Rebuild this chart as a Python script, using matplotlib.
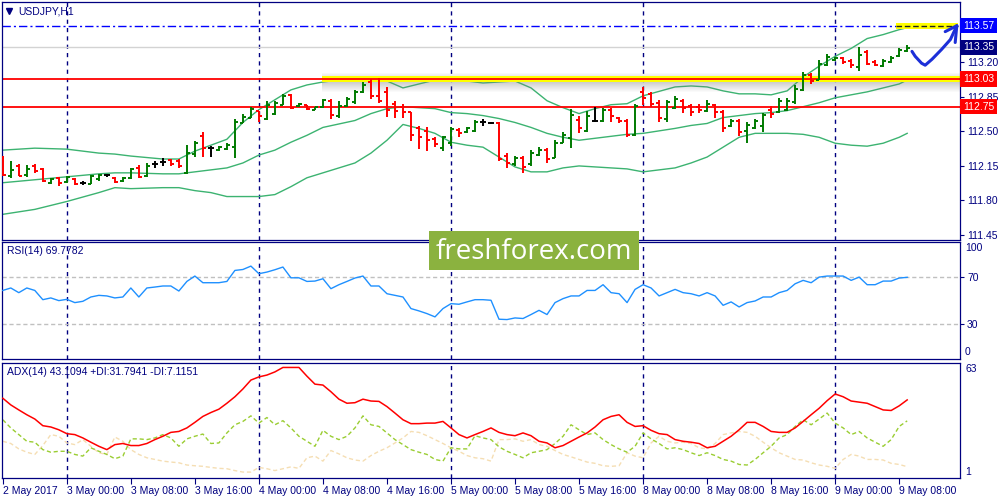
import numpy as np
import matplotlib.pyplot as plt
import matplotlib.transforms as mtransforms
from matplotlib.collections import LineCollection

plt.rcParams['font.family'] = ['Liberation Sans', 'DejaVu Sans']

# USDJPY H1 bars, 2 May 16:00 .. 9 May 09:00
opens = [112.22, 112.05, 112.15, 112.06, 112.15, 112.12, 111.98, 112.03, 111.99, 112.02,
         111.98, 111.97, 112.02, 112.06, 112.03, 112.00, 112.03, 112.13, 112.05, 112.17,
         112.19, 112.21, 112.20, 112.08, 112.27, 112.45, 112.33, 112.31, 112.32, 112.34,
         112.58, 112.64, 112.71, 112.63, 112.68, 112.77, 112.87, 112.76, 112.77, 112.72,
         112.75, 112.81, 112.66, 112.76, 112.80, 112.90, 113.00, 112.86, 112.90, 112.78,
         112.75, 112.70, 112.53, 112.50, 112.42, 112.33, 112.38, 112.51, 112.49, 112.50,
         112.59, 112.58, 112.58, 112.25, 112.17, 112.23, 112.17, 112.26, 112.31, 112.23,
         112.38, 112.43, 112.62, 112.50, 112.61, 112.61, 112.72, 112.64, 112.61, 112.46,
         112.90, 112.88, 112.79, 112.63, 112.74, 112.81, 112.76, 112.75, 112.71, 112.77,
         112.70, 112.55, 112.61, 112.50, 112.53, 112.55, 112.72, 112.70, 112.72, 112.80,
         112.92, 113.07, 113.02, 113.17, 113.22, 113.24, 113.21, 113.15, 113.30, 113.20,
         113.16, 113.20, 113.26, 113.31]
highs = [112.25, 112.20, 112.17, 112.16, 112.17, 112.13, 112.03, 112.04, 112.05, 112.03,
         112.00, 112.06, 112.07, 112.07, 112.04, 112.04, 112.13, 112.16, 112.18, 112.20,
         112.23, 112.22, 112.22, 112.36, 112.40, 112.49, 112.35, 112.35, 112.38, 112.63,
         112.68, 112.75, 112.71, 112.81, 112.81, 112.88, 112.88, 112.79, 112.77, 112.75,
         112.83, 112.83, 112.81, 112.85, 112.92, 113.00, 113.03, 113.04, 112.95, 112.81,
         112.78, 112.70, 112.55, 112.54, 112.44, 112.45, 112.54, 112.53, 112.54, 112.62,
         112.63, 112.59, 112.59, 112.28, 112.25, 112.25, 112.31, 112.34, 112.33, 112.41,
         112.49, 112.73, 112.66, 112.71, 112.75, 112.74, 112.74, 112.65, 112.63, 112.78,
         112.95, 112.90, 112.82, 112.82, 112.86, 112.83, 112.78, 112.78, 112.82, 112.78,
         112.72, 112.63, 112.63, 112.59, 112.63, 112.69, 112.76, 112.84, 112.84, 112.97,
         113.10, 113.09, 113.22, 113.28, 113.25, 113.25, 113.23, 113.35, 113.32, 113.22,
         113.23, 113.26, 113.34, 113.37]
lows = [112.05, 112.03, 112.05, 112.04, 112.08, 111.99, 111.97, 111.95, 111.98, 111.96,
        111.96, 111.97, 112.00, 112.04, 111.98, 111.99, 112.02, 112.03, 112.04, 112.13,
        112.15, 112.15, 112.13, 112.07, 112.24, 112.24, 112.24, 112.30, 112.31, 112.23,
        112.58, 112.64, 112.59, 112.62, 112.67, 112.77, 112.73, 112.75, 112.72, 112.72,
        112.74, 112.63, 112.64, 112.75, 112.78, 112.89, 112.83, 112.79, 112.65, 112.64,
        112.64, 112.40, 112.32, 112.30, 112.34, 112.30, 112.35, 112.44, 112.48, 112.49,
        112.55, 112.57, 112.20, 112.13, 112.15, 112.08, 112.15, 112.25, 112.18, 112.23,
        112.38, 112.33, 112.48, 112.49, 112.59, 112.59, 112.59, 112.58, 112.44, 112.45,
        112.77, 112.75, 112.59, 112.59, 112.73, 112.69, 112.66, 112.69, 112.70, 112.64,
        112.49, 112.54, 112.45, 112.38, 112.52, 112.49, 112.64, 112.69, 112.71, 112.78,
        112.91, 112.98, 113.02, 113.16, 113.21, 113.18, 113.14, 113.11, 113.17, 113.16,
        113.15, 113.19, 113.25, 113.30]
closes = [112.06, 112.11, 112.05, 112.12, 112.10, 112.00, 112.02, 111.98, 112.04, 111.97,
          111.98, 112.05, 112.06, 112.06, 111.99, 112.03, 112.12, 112.04, 112.15, 112.17,
          112.19, 112.17, 112.15, 112.28, 112.38, 112.33, 112.33, 112.34, 112.36, 112.59,
          112.65, 112.73, 112.66, 112.77, 112.79, 112.86, 112.74, 112.78, 112.73, 112.75,
          112.82, 112.67, 112.76, 112.83, 112.90, 112.97, 112.86, 112.81, 112.72, 112.71,
          112.70, 112.46, 112.44, 112.41, 112.37, 112.44, 112.52, 112.48, 112.53, 112.59,
          112.59, 112.58, 112.22, 112.18, 112.23, 112.14, 112.28, 112.31, 112.22, 112.38,
          112.46, 112.67, 112.53, 112.66, 112.61, 112.72, 112.66, 112.60, 112.46, 112.76,
          112.84, 112.78, 112.64, 112.80, 112.83, 112.74, 112.70, 112.72, 112.78, 112.70,
          112.53, 112.61, 112.49, 112.56, 112.60, 112.67, 112.68, 112.81, 112.81, 112.93,
          113.07, 113.01, 113.18, 113.25, 113.24, 113.20, 113.17, 113.27, 113.18, 113.17,
          113.21, 113.24, 113.32, 113.34]

# Bollinger bands read at sample bars
bb_idx = [0, 4, 8, 12, 14, 16, 20, 22, 24, 26, 28, 30, 32, 34, 36, 38, 40, 44, 46, 48,
          50, 52, 54, 56, 58, 60, 62, 64, 66, 68, 70, 72, 74, 76, 78, 80, 84, 86, 88, 90,
          92, 94, 96, 98, 100, 102, 104, 106, 108, 110, 112, 113]
bb_upper = [112.31, 112.33, 112.32, 112.28, 112.27, 112.25, 112.22, 112.22, 112.30, 112.36,
            112.42, 112.59, 112.72, 112.82, 112.92, 112.97, 113.00, 113.04, 113.05, 113.01,
            112.94, 112.98, 113.02, 113.03, 113.01, 112.99, 113.00, 113.01, 112.94, 112.81,
            112.74, 112.68, 112.73, 112.77, 112.78, 112.86, 112.95, 112.96, 112.95, 112.91,
            112.88, 112.88, 112.87, 112.91, 113.05, 113.16, 113.26, 113.34, 113.44, 113.48,
            113.53, 113.55]
bb_middle = [111.98, 112.01, 112.04, 112.07, 112.08, 112.08, 112.07, 112.07, 112.09, 112.11,
             112.13, 112.18, 112.26, 112.31, 112.39, 112.46, 112.54, 112.61, 112.68, 112.73,
             112.75, 112.74, 112.73, 112.69, 112.68, 112.66, 112.63, 112.59, 112.54, 112.48,
             112.44, 112.41, 112.43, 112.45, 112.47, 112.48, 112.53, 112.56, 112.58, 112.64,
             112.66, 112.68, 112.69, 112.71, 112.75, 112.79, 112.84, 112.87, 112.90, 112.94,
             112.98, 113.02]
bb_lower = [111.66, 111.71, 111.79, 111.88, 111.93, 111.92, 111.93, 111.93, 111.90, 111.88,
            111.84, 111.84, 111.84, 111.86, 111.94, 112.03, 112.08, 112.18, 112.28, 112.41,
            112.57, 112.53, 112.48, 112.39, 112.36, 112.34, 112.24, 112.14, 112.09, 112.09,
            112.13, 112.15, 112.14, 112.13, 112.12, 112.09, 112.13, 112.18, 112.24, 112.34,
            112.44, 112.48, 112.48, 112.48, 112.47, 112.44, 112.38, 112.36, 112.35, 112.38,
            112.44, 112.48]

rsi = [58.6, 60.7, 56.7, 60.7, 58.6, 50.7, 52.2, 49.9, 51.0, 48.2,
       49.3, 53.0, 54.4, 53.9, 52.2, 53.0, 60.7, 53.0, 60.7, 61.5,
       62.4, 62.4, 58.1, 66.3, 70.9, 65.2, 65.2, 65.2, 66.3, 75.7,
       76.5, 79.4, 72.9, 74.3, 76.3, 78.6, 69.4, 69.4, 66.3, 66.6,
       68.6, 60.1, 63.5, 66.3, 69.2, 70.9, 62.4, 62.4, 55.8, 54.4,
       53.0, 43.1, 41.1, 38.8, 36.0, 43.1, 47.3, 46.8, 48.8, 50.7,
       50.7, 50.2, 34.0, 33.7, 35.1, 34.6, 38.0, 41.6, 38.0, 48.2,
       51.6, 53.9, 53.9, 58.6, 58.6, 63.5, 56.7, 55.8, 48.2, 59.5,
       63.5, 60.7, 53.9, 56.7, 59.5, 56.7, 55.8, 53.9, 56.7, 53.9,
       45.9, 48.8, 44.5, 48.2, 49.6, 53.0, 53.0, 56.7, 58.6, 64.3,
       67.2, 65.2, 70.0, 70.9, 70.9, 70.9, 67.2, 70.0, 63.5, 63.5,
       66.6, 66.6, 69.2, 69.8]

adx = [44.0, 40.4, 37.7, 35.1, 32.8, 29.2, 28.5, 27.0, 24.9, 24.4,
       22.6, 20.3, 18.1, 16.3, 19.0, 19.6, 18.5, 18.5, 19.6, 21.7,
       23.5, 25.6, 26.1, 28.0, 31.0, 34.2, 36.3, 38.1, 41.3, 44.8,
       49.0, 53.8, 55.5, 56.5, 58.2, 60.6, 60.6, 60.6, 55.9, 51.6,
       51.1, 47.5, 43.5, 41.3, 41.6, 43.5, 42.5, 42.3, 39.5, 36.0,
       32.4, 30.3, 30.3, 30.6, 30.6, 31.5, 28.0, 24.4, 22.6, 24.4,
       26.1, 28.0, 25.6, 24.4, 23.8, 25.3, 23.8, 20.8, 19.9, 17.3,
       18.5, 20.8, 23.1, 25.3, 28.5, 32.4, 34.2, 35.1, 31.0, 28.8,
       29.2, 26.7, 24.9, 24.4, 21.7, 20.8, 20.3, 19.6, 17.3, 18.1,
       20.8, 23.5, 27.0, 31.0, 31.0, 28.8, 26.1, 25.6, 25.6, 28.0,
       31.5, 35.1, 38.6, 42.7, 46.3, 44.8, 42.5, 41.9, 41.3, 39.5,
       37.7, 37.4, 39.9, 43.1]
plus_di = [32.4, 28.0, 24.4, 20.8, 20.3, 16.3, 14.9, 15.4, 15.4, 13.7,
           12.8, 17.3, 15.4, 13.7, 11.4, 12.8, 22.1, 22.1, 21.7, 22.6,
           24.4, 22.6, 18.1, 22.1, 23.5, 24.7, 19.6, 19.9, 25.3, 29.7,
           31.5, 34.5, 30.6, 33.6, 29.7, 31.9, 28.0, 23.5, 20.8, 18.1,
           26.7, 23.5, 21.7, 23.5, 28.0, 34.5, 29.7, 28.8, 25.3, 21.7,
           19.0, 16.3, 14.9, 13.7, 11.0, 10.1, 17.3, 16.7, 16.7, 23.8,
           22.6, 21.7, 17.8, 15.4, 13.7, 11.9, 14.6, 15.4, 16.3, 19.6,
           23.5, 29.7, 27.0, 24.4, 25.3, 21.7, 19.0, 16.7, 14.9, 18.1,
           25.3, 22.1, 19.6, 16.7, 17.3, 16.3, 14.6, 13.1, 14.6, 13.1,
           11.0, 10.1, 8.3, 8.0, 11.0, 14.6, 18.1, 22.6, 24.4, 28.8,
           32.4, 29.7, 32.8, 36.0, 30.6, 28.0, 24.4, 26.1, 22.6, 20.3,
           18.1, 21.7, 28.8, 31.8]
minus_di = [20.8, 19.6, 16.7, 14.9, 13.7, 18.5, 24.4, 23.5, 19.9, 19.0,
            21.7, 18.1, 14.6, 13.7, 23.1, 20.8, 16.3, 13.7, 11.9, 11.0,
            10.1, 9.6, 9.2, 8.0, 7.6, 7.3, 6.7, 6.2, 6.0, 5.0,
            4.2, 4.2, 6.7, 6.0, 5.0, 6.0, 7.0, 6.2, 11.9, 12.8,
            10.1, 15.8, 14.0, 11.9, 10.7, 10.1, 13.1, 15.4, 17.3, 19.9,
            22.6, 26.1, 25.6, 23.8, 21.7, 19.6, 17.3, 15.4, 13.1, 11.9,
            11.4, 10.1, 21.7, 21.7, 22.1, 20.8, 21.7, 19.0, 18.1, 15.8,
            13.7, 12.4, 11.0, 9.6, 8.9, 7.6, 7.3, 7.6, 14.6, 12.8,
            11.9, 19.9, 23.5, 20.8, 19.9, 20.3, 19.6, 17.3, 16.7, 19.6,
            24.4, 25.3, 26.1, 25.6, 23.5, 20.3, 17.3, 14.6, 12.8, 11.0,
            10.7, 9.2, 8.0, 7.3, 6.2, 11.0, 13.7, 12.8, 11.0, 11.0,
            10.7, 8.9, 8.3, 7.1]

date_idx = [0, 8, 16, 24, 32, 40, 48, 56, 64, 72, 80, 88, 96, 104, 112]
date_labels = ['2 May 2017', '3 May 00:00', '3 May 08:00', '3 May 16:00', '4 May 00:00',
               '4 May 08:00', '4 May 16:00', '5 May 00:00', '5 May 08:00', '5 May 16:00',
               '8 May 00:00', '8 May 08:00', '8 May 16:00', '9 May 00:00', '9 May 08:00']
day_idx = [8, 32, 56, 80, 104]

price_ticks = [113.20, 112.85, 112.50, 112.15, 111.80, 111.45]
resistance = 113.03
support = 112.75
target = 113.57
bid = 113.35

# hand drawn arrow (bar index, price)
arrow_x = [113.6, 114.0, 114.8, 115.25, 116.1, 117.3, 118.4, 119.2]
arrow_y = [113.31, 113.26, 113.19, 113.17, 113.23, 113.33, 113.43, 113.57]
head_x = [117.75, 119.2, 119.0]
head_y = [113.51, 113.57, 113.40]

NAVY = '#000080'
GREEN = '#007a00'
BAND = '#3cb371'
FS = 7.5

fig = plt.figure(figsize=(10, 5), dpi=100)
W, H = 1000, 500


def px_axes(x0, y0, x1, y1):
    return fig.add_axes([x0 / W, 1 - y1 / H, (x1 - x0) / W, (y1 - y0) / H])


ax = px_axes(2, 2, 960, 240)
ax_rsi = px_axes(2, 242, 960, 359)
ax_adx = px_axes(2, 363, 960, 478)

n = len(closes)
xs = np.arange(n)
xlim = (-0.1, 119.6)

for a in (ax, ax_rsi, ax_adx):
    a.set_xlim(*xlim)
    for s in a.spines.values():
        s.set_color(NAVY)
        s.set_linewidth(0.9)
    a.yaxis.tick_right()
    a.tick_params(axis='y', colors=NAVY, labelcolor=NAVY, length=3, width=0.8,
                  labelsize=FS, pad=2)
    a.tick_params(axis='x', colors=NAVY, labelcolor=NAVY, length=4, width=0.8,
                  labelsize=FS, pad=2)
    for d in day_idx:
        a.axvline(d, color=NAVY, lw=1.0, ls=(0, (3, 3)), zorder=1)

# --- main price panel ---
ax.set_ylim(111.40, 113.81)
ax.set_yticks(price_ticks)
ax.set_yticklabels(['%.2f' % v for v in price_ticks])
ax.set_xticks([])

ax.axhline(bid, color='#d3d3d3', lw=1, zorder=1)
ax.axhline(target, color='blue', lw=1, ls=(0, (6, 2.2, 1.5, 2.2)), zorder=2)
ax.axhline(support, color='red', lw=1.3, zorder=2)

# yellow highlight on resistance with shadow
hx = [39.9, xlim[1]]
for k in range(10):
    ax.fill_between(hx, resistance - 0.025 - k * 0.011, resistance - 0.025 - (k + 1) * 0.011,
                    color='gray', alpha=0.38 * (1 - k / 10), lw=0, zorder=2)
for k in range(4):
    ax.fill_between(hx, resistance + 0.025 + k * 0.01, resistance + 0.025 + (k + 1) * 0.01,
                    color='gray', alpha=0.2 * (1 - k / 4), lw=0, zorder=2)
ax.fill_between(hx, resistance - 0.027, resistance + 0.027, color='yellow', lw=0, zorder=2)
ax.axhline(resistance, color='red', lw=1.3, zorder=2.1)

# yellow highlight on target
tx = [111.6, 119.3]
ax.fill_between(tx, target - 0.03, target + 0.03, color='yellow', lw=0, zorder=2.2)
ax.plot(tx, [target, target], color='#202020', lw=1, ls=(0, (4, 2)), zorder=2.3)

ax.plot(bb_idx, bb_upper, color=BAND, lw=1, zorder=1.5)
ax.plot(bb_idx, bb_middle, color=BAND, lw=1, zorder=1.5)
ax.plot(bb_idx, bb_lower, color=BAND, lw=1, zorder=1.5)

segs, cols = [], []
for i in xs:
    c = GREEN if closes[i] > opens[i] else ('red' if closes[i] < opens[i] else 'black')
    segs += [[(i, lows[i]), (i, highs[i])],
             [(i - 0.4, opens[i]), (i, opens[i])],
             [(i, closes[i]), (i + 0.4, closes[i])]]
    cols += [c, c, c]
ax.add_collection(LineCollection(segs, colors=cols, linewidths=1.4, zorder=3,
                                 capstyle='butt'))

ax.plot(arrow_x, arrow_y, color='#1c2fd8', lw=2.2, solid_capstyle='round',
        solid_joinstyle='round', zorder=4)
ax.plot(head_x, head_y, color='#1c2fd8', lw=2.2, solid_capstyle='round',
        solid_joinstyle='round', zorder=4)

tr = mtransforms.blended_transform_factory(ax.transAxes, ax.transData)
for val, fc in [(target, 'blue'), (bid, NAVY), (resistance, 'red'), (support, 'red')]:
    ax.text(1.0 + 3 / 958, val, '%.2f' % val, transform=tr, color='white', fontsize=FS,
            va='center', ha='left', clip_on=False, zorder=5,
            bbox=dict(boxstyle='square,pad=0.25', fc=fc, ec='none'))

ax.plot([7 / 958], [1 - 9 / 238], marker='v', ms=5, color=NAVY, transform=ax.transAxes)
ax.text(16 / 958, 1 - 9 / 238, 'USDJPY,H1', transform=ax.transAxes, color=NAVY,
        fontsize=FS, va='center', ha='left')

# --- RSI panel ---
ax_rsi.set_ylim(0, 100)
ax_rsi.set_xticks([])
ax_rsi.set_yticks([70, 30])
ax_rsi.set_yticklabels(['70', '30'])
tr_r = mtransforms.blended_transform_factory(ax_rsi.transAxes, ax_rsi.transData)
ax_rsi.text(1.0 + 5 / 958, 99, '100', transform=tr_r, color=NAVY, fontsize=FS,
            va='top', ha='left', clip_on=False)
ax_rsi.text(1.0 + 5 / 958, 2, '0', transform=tr_r, color=NAVY, fontsize=FS,
            va='bottom', ha='left', clip_on=False)
for lv in (70, 30):
    ax_rsi.axhline(lv, color='#c0c0c0', lw=1, ls=(0, (3, 2)), zorder=1)
ax_rsi.plot(xs, rsi, color='#1e90ff', lw=1, zorder=3)
ax_rsi.text(5 / 958, 1 - 9 / 117, 'RSI(14) 69.7782', transform=ax_rsi.transAxes,
            color=NAVY, fontsize=FS, va='center', ha='left')

# --- ADX panel ---
ax_adx.set_ylim(1, 63)
ax_adx.set_yticks([])
tr_a = mtransforms.blended_transform_factory(ax_adx.transAxes, ax_adx.transData)
ax_adx.text(1.0 + 5 / 958, 62.5, '63', transform=tr_a, color=NAVY, fontsize=FS,
            va='top', ha='left', clip_on=False)
ax_adx.text(1.0 + 5 / 958, 1.5, '1', transform=tr_a, color=NAVY, fontsize=FS,
            va='bottom', ha='left', clip_on=False)
ax_adx.plot(xs, minus_di, color='#f5deb3', lw=1, ls=(0, (3, 2)), zorder=2)
ax_adx.plot(xs, plus_di, color='#9acd32', lw=1, ls=(0, (3, 2)), zorder=2)
ax_adx.plot(xs, adx, color='red', lw=1.1, zorder=3)
ax_adx.text(5 / 958, 1 - 9 / 115, 'ADX(14) 43.1094 +DI:31.7941 -DI:7.1151',
            transform=ax_adx.transAxes, color=NAVY, fontsize=FS, va='center', ha='left')
ax_adx.set_xticks(date_idx)
ax_adx.set_xticklabels(date_labels)
for lbl in ax_adx.get_xticklabels():
    lbl.set_ha('left')

# watermark
wm = fig.add_axes([429 / W, 1 - 270 / H, 210 / W, 39 / H])
wm.set_facecolor('#8bb23f')
wm.set_xticks([])
wm.set_yticks([])
for s in wm.spines.values():
    s.set_visible(False)
wm.text(0.5, 0.47, 'freshforex.com', color='white', fontsize=20, family='Open Sans',
        ha='center', va='center', transform=wm.transAxes)

fig.savefig('out.png', dpi=100, facecolor='white')
